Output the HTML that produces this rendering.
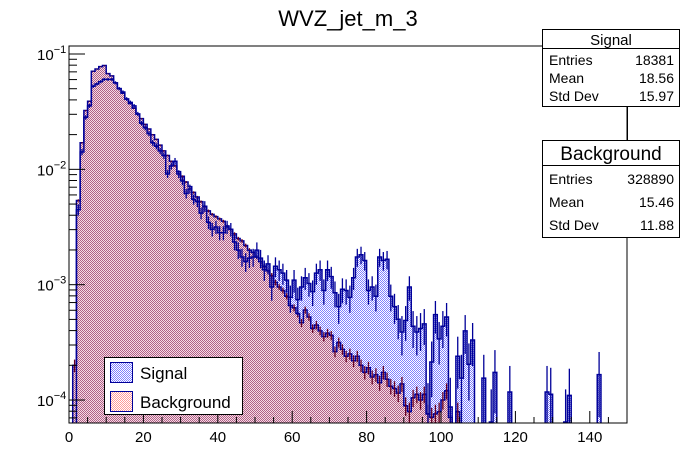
<!DOCTYPE html>
<html><head><meta charset="utf-8">
<style>
html,body{margin:0;padding:0;background:#fff;width:696px;height:472px;overflow:hidden;}
svg{display:block;font-family:"Liberation Sans",Arial,sans-serif;}
</style></head>
<body>
<svg id="c" width="696" height="472" viewBox="0 0 696 472" xmlns="http://www.w3.org/2000/svg">
<defs>
<pattern id="sigPat" width="2" height="2" patternUnits="userSpaceOnUse">
<rect width="2" height="2" fill="#ffffff"/><rect x="0" y="0" width="1" height="1" fill="#8080ff"/><rect x="1" y="1" width="1" height="1" fill="#8080ff"/>
</pattern>
<pattern id="bkgPat" width="2" height="2" patternUnits="userSpaceOnUse">
<rect width="2" height="2" fill="#f6dce4"/><rect x="0" y="0" width="1" height="1" fill="#b06088"/><rect x="1" y="1" width="1" height="1" fill="#b06088"/>
</pattern>
<pattern id="bkgLeg" width="2" height="2" patternUnits="userSpaceOnUse">
<rect width="2" height="2" fill="#ffffff"/><rect x="0" y="0" width="1" height="1" fill="#ff9a9a"/><rect x="1" y="1" width="1" height="1" fill="#ff9a9a"/>
</pattern>
<clipPath id="frameClip"><rect x="69" y="46" width="558" height="377"/></clipPath>
</defs>
<text x="348" y="26" font-size="22" text-anchor="middle" fill="#000">WVZ_jet_m_3</text>
<g id="plot" clip-path="url(#frameClip)"></g>
<g id="axes"></g>
<rect x="69" y="46" width="558" height="377" fill="none" stroke="#000" stroke-width="1"/>

<g>
<rect x="104.5" y="357.5" width="138" height="57" fill="#fff" stroke="#000"/>
<g>
<rect x="110.5" y="362.5" width="22" height="20" fill="url(#sigPat)" stroke="#000099"/>
<text x="140" y="379" font-size="17">Signal</text>
</g>
<g>
<rect x="110.5" y="391.5" width="22" height="20" fill="url(#bkgLeg)" stroke="#000099"/>
<text x="140" y="408" font-size="17">Background</text>
</g>
</g>

<g>
<rect x="542.5" y="29.5" width="137" height="77" fill="#fff" stroke="#000"/>
<line x1="542.5" y1="48.5" x2="679.5" y2="48.5" stroke="#000"/>
<text x="611" y="45" font-size="15" text-anchor="middle">Signal</text>
<text x="549" y="65" font-size="14">Entries</text>
<text x="674" y="65" font-size="14" text-anchor="end">18381</text>
<text x="549" y="83" font-size="14">Mean</text>
<text x="674" y="83" font-size="14" text-anchor="end">18.56</text>
<text x="549" y="101" font-size="14">Std Dev</text>
<text x="674" y="101" font-size="14" text-anchor="end">15.97</text>
</g>
<line x1="627.5" y1="106" x2="627.5" y2="140" stroke="#000"/>
<g>
<rect x="542.5" y="140.5" width="137" height="97" fill="#fff" stroke="#000"/>
<line x1="542.5" y1="165.5" x2="679.5" y2="165.5" stroke="#000"/>
<text x="611" y="160" font-size="19" text-anchor="middle">Background</text>
<text x="549" y="184" font-size="14">Entries</text>
<text x="674" y="184" font-size="14" text-anchor="end">328890</text>
<text x="549" y="207" font-size="14">Mean</text>
<text x="674" y="207" font-size="14" text-anchor="end">15.46</text>
<text x="549" y="230" font-size="14">Std Dev</text>
<text x="674" y="230" font-size="14" text-anchor="end">11.88</text>
</g>
</svg>
<script>
// bin edges: 0..150, width 1 ; values stored as log10(bin content), null = empty
const binLow = 0, binWidth = 1, nBins = 150;
const sigEntries = 18381;
const bkgEntries = 328890;
const log10Signal = [null,null,-2.35,-1.85,-1.55,-1.45,-1.28,-1.26,-1.24,-1.22,-1.22,-1.22,
-1.25,-1.30,-1.33,-1.39,-1.42,-1.45,-1.52,-1.60,-1.64,-1.69,-1.77,-1.80,-1.84,-1.88,-2.04,-1.97,-1.93,-2.04,-2.10,-2.21,-2.17,-2.26,-2.28,-2.38,-2.32,-2.46,-2.52,-2.50,-2.55,
-2.55,-2.50,-2.52,-2.63,-2.70,-2.76,-2.80,-2.77,-2.76,-2.70,-2.77,-2.87,-2.82,-3.02,-2.84,-2.87,-2.90,-2.96,-3.11,-2.96,-3.13,-3.02,-2.94,-2.99,-3.06,-2.90,-2.87,-3.05,-2.87,-2.93,-3.07,-3.19,-3.04,-3.05,-3.11,-2.94,-2.76,-2.74,-2.79,-3.05,-3.02,-3.10,-2.76,-2.79,
-2.78,-3.10,-3.19,-3.30,-3.41,-3.31,-3.02,-3.36,-3.41,-3.38,-3.34,-4.12,-3.67,-3.26,-3.47,-3.36,-3.28,-4.06,null,-3.62,-3.81,-3.40,-3.69,-3.48,null,null,-3.81,null,-4.19,-3.76,null,null,null,-3.93,
null,null,null,null,null,null,null,null,null,-3.93,-3.95,null,null,null,-4.19,-3.96,null,null,null,null,null,null,null,-3.78,null,null,null,null,null,null,null];
const log10Background = [null,-3.7,-2.27,-1.77,-1.49,-1.41,-1.15,-1.13,-1.11,-1.10,-1.17,-1.19,
-1.25,-1.30,-1.34,-1.39,-1.43,-1.47,-1.52,-1.56,-1.61,-1.65,-1.70,-1.74,-1.79,-1.84,-1.88,-1.93,-1.97,-2.02,-2.06,-2.11,-2.15,-2.20,-2.24,-2.28,-2.32,-2.36,-2.39,-2.41,-2.43,
-2.45,-2.49,-2.52,-2.56,-2.60,-2.62,-2.66,-2.70,-2.72,-2.76,-2.80,-2.84,-2.88,-2.92,-2.98,-3.02,-3.05,-3.10,-3.18,-3.20,-3.25,-3.33,-3.22,-3.28,-3.38,-3.35,-3.40,-3.45,-3.42,-3.44,-3.58,-3.50,-3.56,-3.62,-3.60,-3.66,-3.62,-3.70,-3.76,-3.72,-3.80,-3.78,-3.85,-3.76,
-3.82,-3.88,-3.90,-3.94,-3.86,-4.05,-4.10,-3.98,-3.95,-4.00,-3.95,-4.12,-4.15,-4.12,-4.10,-4.00,-3.92,-4.15,null,-4.10];
const xTicks = [0,20,40,60,80,100,120,140];
const yDecades = [-4,-3,-2,-1];

const X0=69, X1=627, Y0=423, Y1=46;
const xMin=0, xMax=150, lyMin=-4.0 - 23/115.5, lyMax=-1 + 8/115.5;
function xs(v){return X0+(v-xMin)/(xMax-xMin)*(X1-X0);}
function ys(l){return Y0-(l-lyMin)/(lyMax-lyMin)*(Y0-Y1);}
const NS='http://www.w3.org/2000/svg';
function mk(tag,attrs,parent){const e=document.createElementNS(NS,tag);for(const k in attrs)e.setAttribute(k,attrs[k]);parent.appendChild(e);return e;}
const plot=document.getElementById('plot'), axes=document.getElementById('axes');

function histPaths(arr){
  let d='', f='M'+xs(binLow)+','+(Y0+5);
  let started=false;
  for(let i=0;i<nBins;i++){
    const l=arr[i];
    const y=(l===null||l===undefined)?Y0+5:ys(l);
    const xa=xs(binLow+i*binWidth), xb=xs(binLow+(i+1)*binWidth);
    if(!started){d='M'+xa+','+y;started=true;} else d+=' L'+xa+','+y;
    d+=' L'+xb+','+y;
    f+=' L'+xa+','+y+' L'+xb+','+y;
  }
  f+=' L'+xs(binLow+nBins*binWidth)+','+(Y0+5)+' Z';
  return {d:d,f:f};
}
function errBars(arr,entries,name,color){
  const g=mk('g',{},plot);
  
  
  for(let i=0;i<nBins;i++){
    const l=arr[i]; if(l===null||l===undefined) continue;
    const v=Math.pow(10,l), n=v*entries, r=1/Math.sqrt(n);
    const xc=xs(binLow+(i+0.5)*binWidth);
    const lo=v*(1-r)>0?ys(Math.log10(v*(1-r))):Y0+5;
    const hi=ys(Math.log10(v*(1+r)));
    const ln=mk('line',{x1:xc,x2:xc,y1:lo,y2:hi,stroke:color,'stroke-width':1.3},g);
    
    
  }
}
const sp=histPaths(log10Signal), bp=histPaths(log10Background);
const sf=mk('path',{d:sp.f,fill:'url(#sigPat)',stroke:'none'},plot);


const bf=mk('path',{d:bp.f,fill:'url(#bkgPat)',stroke:'none'},plot);


const bl=mk('path',{d:bp.d,fill:'none',stroke:'#000099','stroke-width':1.5},plot);


const sl=mk('path',{d:sp.d,fill:'none',stroke:'#000099','stroke-width':1.5},plot);


errBars(log10Background,bkgEntries,'background-error-bars','#660022');
errBars(log10Signal,sigEntries,'signal-error-bars','#000099');

for(let v=0;v<=150;v+=5){
  const x=xs(v), major=(v%20===0);
  const t=mk('line',{x1:x,x2:x,y1:Y0,y2:Y0-(major?12:6),stroke:'#000'},axes);
  
  
}
xTicks.forEach(v=>{
  const t=mk('text',{x:xs(v),y:Y0+19,'font-size':15,'text-anchor':'middle'},axes);
  t.textContent=String(v);
  
  
});
for(let d=-5;d<=-1;d++){
  for(let m=1;m<=9;m++){
    const l=d+Math.log10(m);
    if(l<lyMin||l>lyMax) continue;
    const y=ys(l);
    const t=mk('line',{x1:X0,x2:X0+(m===1?16:8),y1:y,y2:y,stroke:'#000'},axes);
    
    
  }
}
yDecades.forEach(d=>{
  const y=ys(d);
  const t=mk('text',{x:37,y:y+6,'font-size':15},axes);
  
  
  t.textContent='10';
  const s=mk('tspan',{dy:-7,'font-size':11},t);
  s.textContent='\u2212'+(-d);
});
</script>
</body></html>
